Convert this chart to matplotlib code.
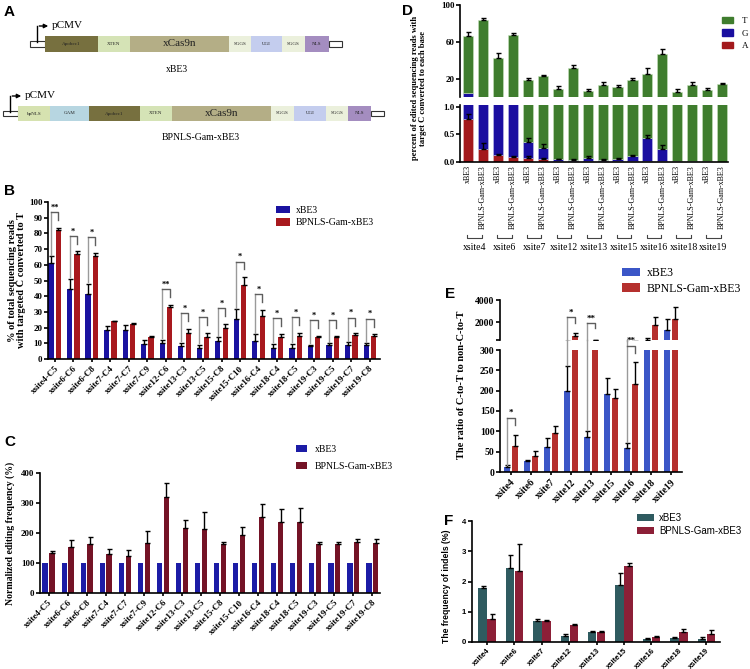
import numpy as np
import matplotlib
matplotlib.use('Agg')
import matplotlib.pyplot as plt
from matplotlib.patches import Rectangle, Patch

plt.rcParams['font.family'] = ['Liberation Serif', 'DejaVu Serif']
SANS = ['Liberation Sans', 'DejaVu Sans']

# ---- data ----
# A: construct layout (segment lengths)
xbe3_parts = ['Apobec1', 'XTEN', 'xCas9n', 'SGGS', 'UGI', 'SGGS', 'NLS']
xbe3_lens = [53, 32, 99, 22, 31, 23, 24]
bp_parts = ['bpNLS', 'GAM', 'Apobec1', 'XTEN', 'xCas9n', 'SGGS', 'UGI', 'SGGS', 'NLS']
bp_lens = [32, 39, 51, 32, 99, 23, 32, 22, 23]
part_colors = {'Apobec1': '#77703f', 'XTEN': '#d5e3b6', 'xCas9n': '#b4ae86', 'SGGS': '#ebf0dc',
               'UGI': '#c4cdee', 'NLS': '#a48dc0', 'bpNLS': '#d6e2b0', 'GAM': '#b7d6e1'}

# B
b_sites = ['xsite4-C5', 'xsite6-C6', 'xsite6-C8', 'xsite7-C4', 'xsite7-C7', 'xsite7-C9',
           'xsite12-C6', 'xsite13-C3', 'xsite13-C5', 'xsite15-C8', 'xsite15-C10', 'xsite16-C4',
           'xsite18-C4', 'xsite18-C5', 'xsite19-C3', 'xsite19-C5', 'xsite19-C7', 'xsite19-C8']
b_xbe3 = [61, 44.6, 41.4, 18.5, 18.5, 9.6, 10.4, 8.2, 7.1, 11.6, 25.4, 11.6, 6.9, 6.9, 8.2, 8.6, 9.2, 8.6]
b_xbe3_err = [4.3, 6.4, 6.4, 2.5, 3.2, 2.6, 1.8, 2.0, 2.1, 2.1, 6.4, 4.1, 2.7, 2.7, 1.0, 1.4, 1.4, 1.4]
b_bp = [82, 67, 65.5, 23.9, 22.4, 14.3, 33, 16.8, 14.3, 19.6, 47.4, 27.5, 14.1, 14.5, 13.7, 14.3, 15.3, 14.7]
b_bp_err = [1.5, 1.5, 2.0, 0.5, 0.5, 0.4, 1.5, 2.2, 2.4, 2.6, 4.7, 3.9, 2.0, 2.2, 1.0, 0.6, 1.0, 1.0]
b_sig = ['**', '*', '*', '', '', '', '**', '*', '*', '*', '*', '*', '*', '*', '*', '*', '*', '*']

# C
c_xbe3 = [100] * 18
c_bp = [133, 155, 163, 130, 125, 168, 320, 217, 213, 162, 195, 255, 237, 238, 163, 163, 170, 168]
c_bp_err = [8, 22, 25, 18, 17, 40, 48, 25, 58, 8, 25, 42, 43, 45, 7, 8, 10, 12]

# D
d_sites = ['xsite4', 'xsite6', 'xsite7', 'xsite12', 'xsite13', 'xsite15', 'xsite16', 'xsite18', 'xsite19']
d_groups = ['xBE3', 'BPNLS-Gam-xBE3']
d_T = [61.1, 82.2, 42.0, 66.3, 18.8, 23.5, 10.1, 32.4, 7.2, 14.5, 12.0, 19.1, 25.6, 47.0, 6.6, 14.5, 9.1, 15.6]
d_T_err = [4.0, 1.7, 5.5, 2.5, 2.8, 0.7, 2.5, 2.9, 2.2, 2.9, 2.5, 2.5, 6.8, 5.4, 2.9, 2.5, 1.9, 1.1]
d_G = [4.7, 1.4, 1.1, 1.3, 0.28, 0.20, 0.04, 0.03, 0.05, 0.03, 0.03, 0.08, 0.43, 0.23, 0.01, 0.005, 0.01, 0.005]
d_G_err = [0, 0, 0, 0, 0.07, 0.06, 0.01, 0.01, 0.04, 0.02, 0.03, 0.02, 0.04, 0.07, 0, 0, 0, 0]
d_A = [0.77, 0.24, 0.13, 0.09, 0.08, 0.06, 0.01, 0.01, 0.02, 0.01, 0.02, 0.02, 0.01, 0.01, 0.005, 0.005, 0.005, 0.002]
d_A_err = [0.10, 0.10, 0.02, 0.01, 0.02, 0.02, 0, 0, 0, 0, 0, 0, 0, 0, 0, 0, 0, 0]

# E
e_sites = ['xsite4', 'xsite6', 'xsite7', 'xsite12', 'xsite13', 'xsite15', 'xsite16', 'xsite18', 'xsite19']
e_xbe3 = [13, 26, 62, 200, 87, 193, 58, 420, 1300]
e_xbe3_err = [3, 3, 21, 60, 15, 38, 13, 150, 970]
e_bp = [63, 39, 97, 750, 350, 181, 216, 1750, 2300]
e_bp_err = [29, 13, 17, 250, 80, 24, 55, 760, 1060]
e_sig = ['*', '', '', '*', '**', '', '**', '', '']
e_sig_top = [133, 0, 0, 2450, 1900, 0, 310, 0, 0]
e_sig_leg = [18, 0, 0, 262, 104, 0, 73, 0, 0]
e_sig_drop = [115, 0, 0, 1900, 1450, 0, 293, 0, 0]

# F
f_sites = e_sites
f_xbe3 = [1.78, 2.43, 0.68, 0.20, 0.33, 1.88, 0.10, 0.13, 0.11]
f_xbe3_err = [0.06, 0.45, 0.09, 0.05, 0.03, 0.40, 0.02, 0.05, 0.04]
f_bp = [0.76, 2.36, 0.71, 0.55, 0.33, 2.50, 0.18, 0.32, 0.28]
f_bp_err = [0.18, 0.88, 0.02, 0.06, 0.03, 0.12, 0.02, 0.10, 0.12]

W, H = 750, 669
fig = plt.figure(figsize=(7.5, 6.69), dpi=100)


def px_axes(x0, y0, x1, y1):
    return fig.add_axes([x0 / W, 1 - y1 / H, (x1 - x0) / W, (y1 - y0) / H])


def style_axis(ax, lw=1.2, bottom=True):
    for s in ['top', 'right']:
        ax.spines[s].set_visible(False)
    ax.spines['left'].set_linewidth(lw)
    ax.spines['bottom'].set_linewidth(lw)
    if not bottom:
        ax.spines['bottom'].set_visible(False)
        ax.tick_params(axis='x', bottom=False, labelbottom=False)
    ax.tick_params(width=lw, length=3)


def upper_err(ax, x, y, err, **kw):
    err = np.asarray(err, dtype=float)
    ax.errorbar(x, y, yerr=[np.zeros_like(err), err], fmt='none', ecolor='black',
                elinewidth=1, capsize=1.8, capthick=1, **kw)


def bracket(ax, x1, x2, yleg, ytop, ydrop, label, fs=6):
    ax.plot([x1, x1], [yleg, ytop], color='#9a9a9a', lw=1, clip_on=False)
    ax.plot([x1, x2, x2], [ytop, ytop, ydrop], color='#5e5e5e', lw=1, clip_on=False)
    ax.annotate(label, ((x1 + x2) / 2, ytop), xytext=(0, 0.3), textcoords='offset points',
                ha='center', va='bottom', fontsize=fs, fontweight='bold', annotation_clip=False)


# ---- Panel A (schematic) ----
axA = fig.add_axes([0, 0, 1, 1], zorder=-1)
axA.set_xlim(0, W)
axA.set_ylim(H, 0)
axA.axis('off')


def construct(x0, y0, h, parts, lens, arrow_x):
    stub_h = h * 0.38
    axA.add_patch(Rectangle((x0 - 15, y0 + (h - stub_h) / 2), 15, stub_h, fc='white', ec='#333333', lw=0.8))
    x = x0
    for name, ln in zip(parts, lens):
        axA.add_patch(Rectangle((x, y0), ln, h, fc=part_colors[name], ec='none'))
        fs = 8 if name == 'xCas9n' else 3.6
        axA.text(x + ln / 2, y0 + h / 2, name, ha='center', va='center', fontsize=fs, color='#222222')
        x += ln
    axA.add_patch(Rectangle((x, y0 + (h - stub_h) / 2), 13, stub_h, fc='white', ec='#333333', lw=0.8))
    ytop = y0 - 10
    axA.plot([arrow_x, arrow_x], [y0 + h / 2 - 2, ytop], color='black', lw=1)
    axA.annotate('', xy=(arrow_x + 14, ytop), xytext=(arrow_x - 0.5, ytop),
                 arrowprops=dict(arrowstyle='-|>', color='black', lw=1, mutation_scale=6))
    axA.text(arrow_x + 15, ytop - 1, 'pCMV', ha='left', va='center', fontsize=8)


construct(45, 36, 16, xbe3_parts, xbe3_lens, 37)
axA.text(177, 70, 'xBE3', ha='center', va='center', fontsize=7)
construct(18, 106, 15, bp_parts, bp_lens, 10)
axA.text(201, 138, 'BPNLS-Gam-xBE3', ha='center', va='center', fontsize=7)

# ---- Panel B ----
cB1, cB2 = '#1a12a0', '#a8191e'
axB = px_axes(48, 202, 380, 359)
xb = np.arange(len(b_sites))
wb = 0.28
axB.bar(xb - 0.2, b_xbe3, wb, color=cB1, label='xBE3')
axB.bar(xb + 0.2, b_bp, wb, color=cB2, label='BPNLS-Gam-xBE3')
upper_err(axB, xb - 0.2, b_xbe3, b_xbe3_err)
upper_err(axB, xb + 0.2, b_bp, b_bp_err)
for i, s in enumerate(b_sig):
    if s:
        top = b_bp[i] + b_bp_err[i] + 10
        bracket(axB, i - 0.2, i + 0.2, b_xbe3[i] + b_xbe3_err[i] + 1, top, top - 5, s)
axB.set_ylim(0, 100)
axB.set_xlim(-0.36, len(b_sites) - 0.45)
axB.set_yticks(range(0, 101, 10))
axB.set_xticks(xb)
axB.set_xticklabels(b_sites, rotation=45, ha='right', rotation_mode='anchor')
style_axis(axB)
for t in axB.get_xticklabels() + axB.get_yticklabels():
    t.set_fontsize(6.5)
    t.set_fontweight('bold')
axB.tick_params(axis='x', length=2, pad=2)
axB.tick_params(axis='y', pad=1)
axB.set_ylabel('% of total sequencing reads\nwith targeted C converted to T', fontsize=7.5,
               fontweight='bold', labelpad=2, linespacing=1.0)
axB.legend(loc='upper left', bbox_to_anchor=(276 / W, 1 - 206 / H), bbox_transform=fig.transFigure,
           frameon=False, fontsize=7, handlelength=1.4, handleheight=0.75, handletextpad=0.6,
           labelspacing=0.35, borderpad=0, borderaxespad=0)

# ---- Panel C ----
cC1, cC2 = '#1c1ca6', '#741326'
axC = px_axes(40, 473, 380, 593)
xc = np.arange(len(b_sites))
axC.bar(xc - 0.18, c_xbe3, 0.28, color=cC1, label='xBE3')
axC.bar(xc + 0.18, c_bp, 0.28, color=cC2, label='BPNLS-Gam-xBE3')
upper_err(axC, xc + 0.18, c_bp, c_bp_err)
axC.set_ylim(0, 400)
axC.set_xlim(-0.45, len(b_sites) - 0.6)
axC.set_yticks([0, 100, 200, 300, 400])
axC.set_xticks(xc)
axC.set_xticklabels(b_sites, rotation=45, ha='right', rotation_mode='anchor')
style_axis(axC)
for t in axC.get_xticklabels() + axC.get_yticklabels():
    t.set_fontsize(6.5)
    t.set_fontweight('bold')
axC.tick_params(axis='x', length=2, pad=2)
axC.tick_params(axis='y', pad=1)
axC.set_ylabel('Normalized editing frequency (%)', fontsize=7, fontweight='bold', labelpad=4)
axC.legend(loc='upper left', bbox_to_anchor=(296 / W, 1 - 445 / H), bbox_transform=fig.transFigure,
           frameon=False, fontsize=7, handlelength=1.1, handleheight=0.75, handletextpad=0.8,
           labelspacing=0.8, borderpad=0, borderaxespad=0)

# ---- Panel D (broken axis, stacked) ----
cT, cG, cA = '#3f7d2e', '#1a0ea0', '#a3191c'
axDt = px_axes(460, 5, 728, 97)
axDb = px_axes(460, 105, 728, 162)
xd = np.arange(len(d_T))
A = np.array(d_A)
G = np.array(d_G)
T = np.array(d_T)
for ax in (axDt, axDb):
    ax.bar(xd, A, 0.68, color=cA, edgecolor='#e8c0c0', linewidth=0.4)
    ax.bar(xd, G, 0.68, bottom=A, color=cG, edgecolor='#c0c0ea', linewidth=0.4)
    ax.bar(xd, T, 0.68, bottom=A + G, color=cT, edgecolor='#c8e3bd', linewidth=0.4)
    ax.set_xlim(-0.55, len(xd) - 0.6)
upper_err(axDt, xd, A + G + T, d_T_err)
mA = np.array(d_A_err) > 0
upper_err(axDb, xd[mA], A[mA], np.array(d_A_err)[mA])
mG = np.array(d_G_err) > 0
upper_err(axDb, xd[mG], (A + G)[mG], np.array(d_G_err)[mG])
axDt.set_ylim(1.2, 100)
axDt.set_yticks([20, 60, 100])
axDb.set_ylim(0, 1.03)
axDb.set_yticks([0, 0.5, 1.0])
axDb.set_yticklabels(['0.0', '0.5', '1.0'])
style_axis(axDt, bottom=False)
style_axis(axDb)
axDb.set_xticks(xd)
axDb.set_xticklabels([d_groups[i % 2] for i in xd], rotation=90, fontsize=5.8, va='top')
axDb.tick_params(axis='x', length=0, pad=2)
for ax in (axDt, axDb):
    for t in ax.get_yticklabels():
        t.set_fontsize(6.5)
        t.set_fontweight('bold')
    ax.tick_params(axis='y', pad=1)
trD = axDb.get_xaxis_transform()
for i, s in enumerate(d_sites):
    x1, x2 = 2 * i - 0.05, 2 * i + 0.9
    axDb.plot([x1, x1, x2, x2], [-1.28, -1.33, -1.33, -1.28], color='#444444', lw=0.8,
              transform=trD, clip_on=False)
    axDb.text((x1 + x2) / 2, -1.42, s, transform=trD, ha='center', va='top', fontsize=7)
fig.text(419 / W, 1 - 88 / H, 'percent of edited sequencing reads with\ntarget C converted to each base',
         rotation=90, ha='center', va='center', fontsize=6.2, fontweight='bold', linespacing=1.15)
axDt.legend(handles=[Patch(color=cT), Patch(color=cG), Patch(color=cA)], labels=['T', 'G', 'A'],
            loc='upper left', bbox_to_anchor=(722 / W, 1 - 17 / H), bbox_transform=fig.transFigure,
            frameon=False, fontsize=6.5, handlelength=1.2, handleheight=0.7, handletextpad=1.0,
            labelspacing=0.45, borderpad=0, borderaxespad=0)

# ---- Panel E (broken axis) ----
cE1, cE2 = '#3b56c7', '#b5302e'
axEt = px_axes(500, 300, 682, 340)
axEb = px_axes(500, 350, 682, 472)
xe = np.arange(len(e_sites))
for ax in (axEt, axEb):
    ax.bar(xe - 0.2, e_xbe3, 0.27, color=cE1, label='xBE3')
    ax.bar(xe + 0.2, e_bp, 0.27, color=cE2, label='BPNLS-Gam-xBE3')
    upper_err(ax, xe - 0.2, e_xbe3, e_xbe3_err)
    upper_err(ax, xe + 0.2, e_bp, e_bp_err)
    ax.set_xlim(-0.55, len(xe) - 0.45)
axEt.set_ylim(390, 4000)
axEt.set_yticks([390, 2000, 4000])
axEt.set_yticklabels(['', '2000', '4000'])
axEb.set_ylim(0, 300)
axEb.set_yticks(range(0, 301, 50))
style_axis(axEt, bottom=False)
style_axis(axEb)
axEb.set_xticks(xe)
axEb.set_xticklabels(e_sites, rotation=45, ha='right', rotation_mode='anchor')
axEb.tick_params(axis='x', length=2, pad=2)
for ax in (axEt, axEb):
    for t in ax.get_yticklabels() + ax.get_xticklabels():
        t.set_fontsize(7)
        t.set_fontweight('bold')
    ax.tick_params(axis='y', pad=1)


def e_vline(x, y0, y1, color):
    if y1 <= 300:
        axEb.plot([x, x], [y0, y1], color=color, lw=1, clip_on=False)
    elif y0 >= 390:
        axEt.plot([x, x], [y0, y1], color=color, lw=1, clip_on=False)
    else:
        axEb.plot([x, x], [y0, 325], color=color, lw=1, clip_on=False)
        axEt.plot([x, x], [390, y1], color=color, lw=1, clip_on=False)


for i, s in enumerate(e_sig):
    if not s:
        continue
    top = e_sig_top[i]
    axT = axEt if top > 390 else axEb
    e_vline(i - 0.2, e_sig_leg[i], top, '#9a9a9a')
    axT.plot([i - 0.2, i + 0.2, i + 0.2], [top, top, e_sig_drop[i]], color='#5e5e5e', lw=1, clip_on=False)
    axT.annotate(s, (i, top), xytext=(0, 0.5), textcoords='offset points', ha='center', va='bottom',
                 fontsize=6.5, fontweight='bold', annotation_clip=False)
fig.text(462 / W, 1 - 385 / H, 'The ratio of C-to-T to non-C-to-T', rotation=90, ha='center',
         va='center', fontsize=7.5, fontweight='bold')
axEb.legend(loc='upper left', bbox_to_anchor=(622 / W, 1 - 267 / H), bbox_transform=fig.transFigure,
            frameon=False, fontsize=8.5, handlelength=1.5, handleheight=0.7, handletextpad=0.6,
            labelspacing=0.3, borderpad=0, borderaxespad=0)

# ---- Panel F ----
cF1, cF2 = '#2f5b60', '#8c1f37'
axF = px_axes(472, 521, 720, 642)
xf = np.arange(len(f_sites))
axF.bar(xf - 0.165, f_xbe3, 0.31, color=cF1, label='xBE3')
axF.bar(xf + 0.165, f_bp, 0.31, color=cF2, label='BPNLS-Gam-xBE3')
upper_err(axF, xf - 0.165, f_xbe3, f_xbe3_err)
upper_err(axF, xf + 0.165, f_bp, f_bp_err)
axF.set_ylim(0, 4)
axF.set_xlim(-0.55, len(xf) - 0.5)
axF.set_yticks(range(5))
axF.set_xticks(xf)
axF.set_xticklabels(f_sites, rotation=45, ha='right', rotation_mode='anchor')
style_axis(axF)
axF.tick_params(axis='x', length=2, pad=1.5)
axF.tick_params(axis='y', pad=1.5)
for t in axF.get_yticklabels() + axF.get_xticklabels():
    t.set_family(SANS)
    t.set_fontsize(5.6)
    t.set_fontweight('bold')
axF.set_ylabel('The frequency of indels (%)', fontsize=6.2, fontweight='bold', family=SANS, labelpad=5)
axF.yaxis.set_label_coords(-0.085, 0.46)
axF.legend(loc='upper left', bbox_to_anchor=(637 / W, 1 - 513 / H), bbox_transform=fig.transFigure,
           frameon=False, prop={'family': SANS, 'size': 7}, handlelength=1.7, handleheight=0.8,
           handletextpad=0.6, labelspacing=0.3, borderpad=0, borderaxespad=0)

# ---- panel letters ----
for lab, x, y in [('A', 4, 5), ('B', 4, 184), ('C', 4, 435), ('D', 402, 4), ('E', 445, 287), ('F', 444, 514)]:
    fig.text(x / W, 1 - y / H, lab, ha='left', va='top', fontsize=11, fontweight='bold', family=SANS)

fig.savefig('out.png', dpi=100)
